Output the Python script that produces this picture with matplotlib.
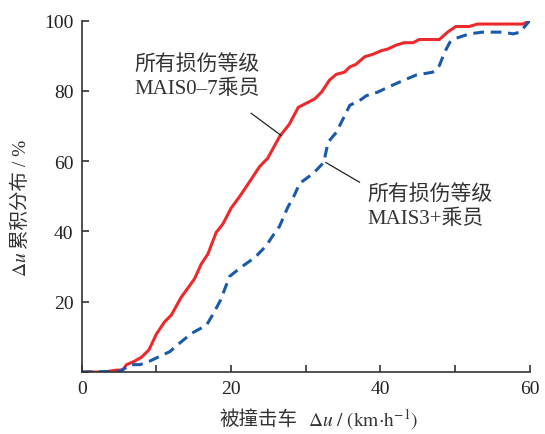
import numpy as np
import matplotlib
matplotlib.use("Agg")
import matplotlib.pyplot as plt

plt.rcParams['font.family'] = ['Liberation Serif', 'Noto Sans CJK SC']
plt.rcParams['mathtext.fontset'] = 'stix'

# MAIS0-7 (красная сплошная)
x_all = [0, 3, 4.5, 5.5, 6.0, 7, 8.0, 9.0, 10, 11.1, 12, 13.3, 15.1, 16.0, 16.9, 18.0, 18.9,
         20.0, 21.2, 22.5, 23.8, 24.9, 26.5, 27.8, 29.0, 30.1, 31.2, 32.1, 33.2, 34.1, 35.2,
         35.9, 36.7, 37.9, 39.0, 40.1, 41.0, 42.1, 43.2, 44.4, 45.2, 47.9, 49.0, 50.1, 51.9,
         53.0, 59.1, 60]
y_all = [0, 0, 0.5, 0.6, 2.1, 3.0, 4.2, 6.3, 10.8, 14.3, 16.2, 21.2, 26.5, 30.7, 33.6, 39.7,
         42.1, 46.6, 50.1, 54.2, 58.4, 60.8, 67.0, 70.5, 75.3, 76.5, 77.7, 79.6, 83.1, 84.7,
         85.3, 86.8, 87.5, 89.7, 90.4, 91.4, 91.9, 93.0, 93.7, 93.7, 94.6, 94.6, 96.7, 98.3,
         98.3, 99.0, 99.0, 100]

# MAIS3+ (синяя пунктирная)
x_3p = [0, 5.1, 6.6, 7.8, 9.1, 11.8, 12.7, 14.7, 16.7, 17.6, 18.6, 19.8, 20.5, 21.6, 23.2,
        24.7, 25.6, 26.5, 27.6, 28.3, 29.2, 31.0, 32.4, 33.0, 34.1, 35.2, 35.9, 37.2, 38.1,
        39.6, 41.2, 43.0, 44.8, 47.0, 47.9, 48.6, 49.3, 50.2, 51.9, 53.7, 56.4, 57.8, 58.7, 60]
y_3p = [0, 0.2, 2.1, 2.1, 3.1, 5.8, 7.5, 11.0, 13.3, 16.5, 20.5, 27.2, 28.4, 30.2, 32.6,
        35.9, 38.8, 41.5, 46.9, 49.5, 53.7, 56.5, 59.6, 65.4, 68.2, 72.9, 75.9, 77.2, 78.6,
        79.6, 81.2, 82.9, 84.5, 85.3, 87.2, 91.0, 93.8, 95.0, 96.2, 96.7, 96.7, 96.2, 96.7, 100]

x_ticks = [0, 10, 20, 30, 40, 50, 60]
x_labels = ['0', '', '20', '', '40', '', '60']
y_ticks = [0, 20, 40, 60, 80, 100]
y_labels = ['', '20', '40', '60', '80', '100']

W, H = 545, 435
fig = plt.figure(figsize=(W / 100, H / 100), dpi=100)
ax = fig.add_axes([0.150, 0.1425, 0.822, 0.808])

ax.plot(x_all, y_all, color='#ec2a2c', lw=2.2, solid_joinstyle='round')
ax.plot(x_3p, y_3p, color='#1a5aaa', lw=2.2, linestyle=(0, (3.5, 2.2)))

ax.set_xlim(0, 60)
ax.set_ylim(0, 100)
ax.set_xticks(x_ticks)
ax.set_xticklabels(x_labels)
ax.set_yticks(y_ticks)
ax.set_yticklabels(y_labels)
ax.tick_params(direction='in', length=5, width=1.2, color='#333333',
               labelsize=14, labelcolor='#222222', pad=6)
for s in ['top', 'right']:
    ax.spines[s].set_visible(False)
for s in ['left', 'bottom']:
    ax.spines[s].set_linewidth(1.2)
    ax.spines[s].set_color('#333333')

# подписи осей собраны из кусков: mathtext не умеет подставлять CJK-шрифт
lab = dict(fontsize=14, color='#333333')
fig.text(297 / W, 15 / H, '被撞击车', ha='right', va='center', family='Noto Sans CJK SC', **lab)
fig.text(308 / W, 15 / H, r'$\mathrm{\Delta}u\ /\ (\mathrm{km{\cdot}h^{-1}})$', ha='left', va='center', **lab)

fig.text(21 / W, 158 / H, r'$\mathrm{\Delta}u$', rotation=90, ha='center', va='bottom', **lab)
fig.text(21 / W, 186 / H, '累积分布 / %', rotation=90, ha='center', va='bottom', **lab)

ax.text(7.1, 90.5, '所有损伤等级\nMAIS0–7乘员', fontsize=15, color='#333333',
        ha='left', va='top', linespacing=1.3)
ax.plot([22.7, 26.7], [73.6, 67.3], color='#222222', lw=0.9)

ax.text(38.3, 53.5, '所有损伤等级\nMAIS3+乘员', fontsize=15, color='#333333',
        ha='left', va='top', linespacing=1.3)
ax.plot([32.7, 37.2], [59.6, 54.0], color='#222222', lw=0.9)

fig.savefig('out.png', dpi=100)
